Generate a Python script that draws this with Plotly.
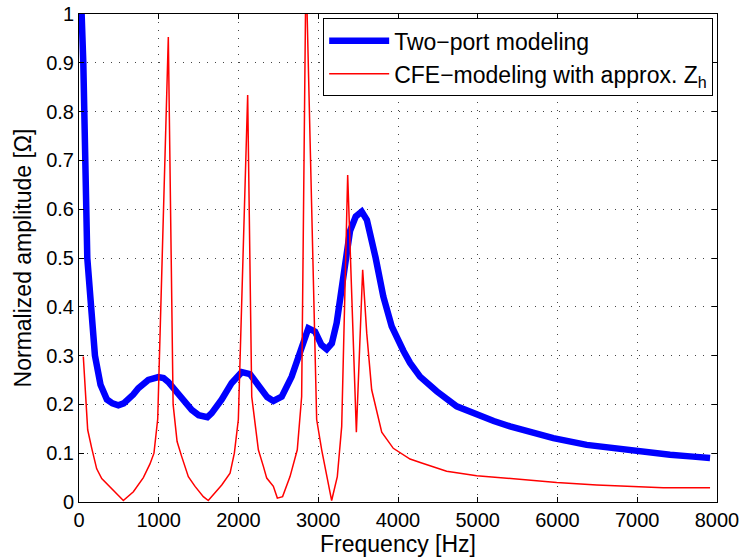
import plotly.graph_objects as go

# Two-port modeling (blue)
blue_f = [33, 54, 104, 150, 200, 270, 350, 420, 493, 560, 618, 680, 744, 869, 995, 1060, 1120,
          1245, 1330, 1413, 1500, 1559, 1610, 1664, 1790, 1915, 2040, 2144, 2270, 2360, 2437,
          2542, 2667, 2792, 2876, 2960, 3040, 3106, 3170, 3231, 3314, 3398, 3470, 3545, 3610,
          3660, 3720, 3816, 3921, 4067, 4151, 4276, 4485, 4736, 4987, 5200, 5405, 5700, 5948,
          6366, 6700, 6993, 7411, 7700, 7913]
blue_v = [1.0, 0.9, 0.5, 0.40, 0.30, 0.24, 0.21, 0.202, 0.198, 0.202, 0.21, 0.22, 0.233, 0.25, 0.256,
          0.254, 0.246, 0.22, 0.203, 0.189, 0.178, 0.174, 0.174, 0.182, 0.21, 0.244, 0.266, 0.262,
          0.237, 0.215, 0.207, 0.216, 0.257, 0.319, 0.356, 0.349, 0.322, 0.313, 0.325, 0.367,
          0.462, 0.555, 0.585, 0.595, 0.578, 0.545, 0.50, 0.421, 0.36, 0.31, 0.285, 0.257, 0.227,
          0.196, 0.178, 0.166, 0.155, 0.142, 0.131, 0.117, 0.110, 0.104, 0.097, 0.093, 0.090]

# CFE-modeling with approx. Z_h (red)
red_f = [54, 109, 160, 222, 285, 390, 473, 556, 682, 807, 890, 940, 987, 1120, 1180, 1230, 1288,
         1371, 1455, 1559, 1621, 1705, 1790, 1894, 1948, 1998, 2115, 2166, 2249, 2312, 2354,
         2437, 2487, 2553, 2646, 2737, 2792, 2846, 2980, 3043, 3114, 3168, 3239, 3294, 3369,
         3478, 3557, 3608, 3670, 3796, 3941, 4151, 4297, 4610, 4987, 5321, 5530, 5823, 5990,
         6492, 6868, 7327, 7913]
red_v = [0.298, 0.148, 0.11, 0.068, 0.048, 0.030, 0.015, 0.003, 0.021, 0.050, 0.078, 0.10, 0.17, 0.953,
         0.20, 0.124, 0.093, 0.052, 0.032, 0.011, 0.003, 0.018, 0.035, 0.059, 0.10, 0.169, 0.834,
         0.216, 0.107, 0.073, 0.049, 0.032, 0.008, 0.011, 0.052, 0.107, 0.216, 1.1, 0.169, 0.107,
         0.052, 0.003, 0.052, 0.155, 0.670, 0.143, 0.476, 0.346, 0.23, 0.143, 0.110, 0.088,
         0.080, 0.063, 0.054, 0.049, 0.046, 0.042, 0.040, 0.035, 0.032, 0.029, 0.029]

x_ticks = [0, 1000, 2000, 3000, 4000, 5000, 6000, 7000, 8000]
y_ticks = [0, 0.1, 0.2, 0.3, 0.4, 0.5, 0.6, 0.7, 0.8, 0.9, 1]
y_tick_labels = ["0", "0.1", "0.2", "0.3", "0.4", "0.5", "0.6", "0.7", "0.8", "0.9", "1"]

font_family = "Liberation Sans, Arial, Helvetica, sans-serif"

fig = go.Figure()
fig.add_trace(go.Scatter(x=blue_f, y=blue_v, mode="lines", name="Two−port modeling",
                         line=dict(color="#0000ff", width=6.5)))
fig.add_trace(go.Scatter(x=red_f, y=red_v, mode="lines", name="CFE−modeling with approx. Z<sub>h</sub>",
                         line=dict(color="#ff0000", width=1.5)))

axis_common = dict(
    showline=True, linecolor="black", linewidth=1, mirror="ticks",
    ticks="inside", ticklen=5, tickcolor="black",
    showgrid=True, gridcolor="#444444", gridwidth=1, griddash="1px,7px",
    zeroline=False, automargin=False,
    tickfont=dict(size=20, color="black", family=font_family),
)

fig.update_xaxes(range=[0, 8000], tickvals=x_ticks, ticktext=[str(v) for v in x_ticks],
                 title=dict(text="Frequency [Hz]", font=dict(size=23, color="black", family=font_family),
                            standoff=2),
                 **axis_common)
fig.update_yaxes(range=[0, 1], tickvals=y_ticks, ticktext=y_tick_labels,
                 title=dict(text="Normalized amplitude [Ω]", font=dict(size=23, color="black", family=font_family),
                            standoff=8),
                 **axis_common)

fig.update_layout(
    width=740, height=558,
    margin=dict(l=79, r=23, t=14, b=56),
    paper_bgcolor="white", plot_bgcolor="white",
    font=dict(family=font_family, size=23, color="black"),
    showlegend=True,
    legend=dict(x=0.994, y=0.991, xanchor="right", yanchor="top",
                bgcolor="white", bordercolor="black", borderwidth=1,
                font=dict(size=23, color="black", family=font_family),
                tracegroupgap=0, itemwidth=60),
)

fig.write_html("out.html", config={"displayModeBar": False},
               post_script="document.body.style.margin='0px';document.body.style.overflow='hidden';")
